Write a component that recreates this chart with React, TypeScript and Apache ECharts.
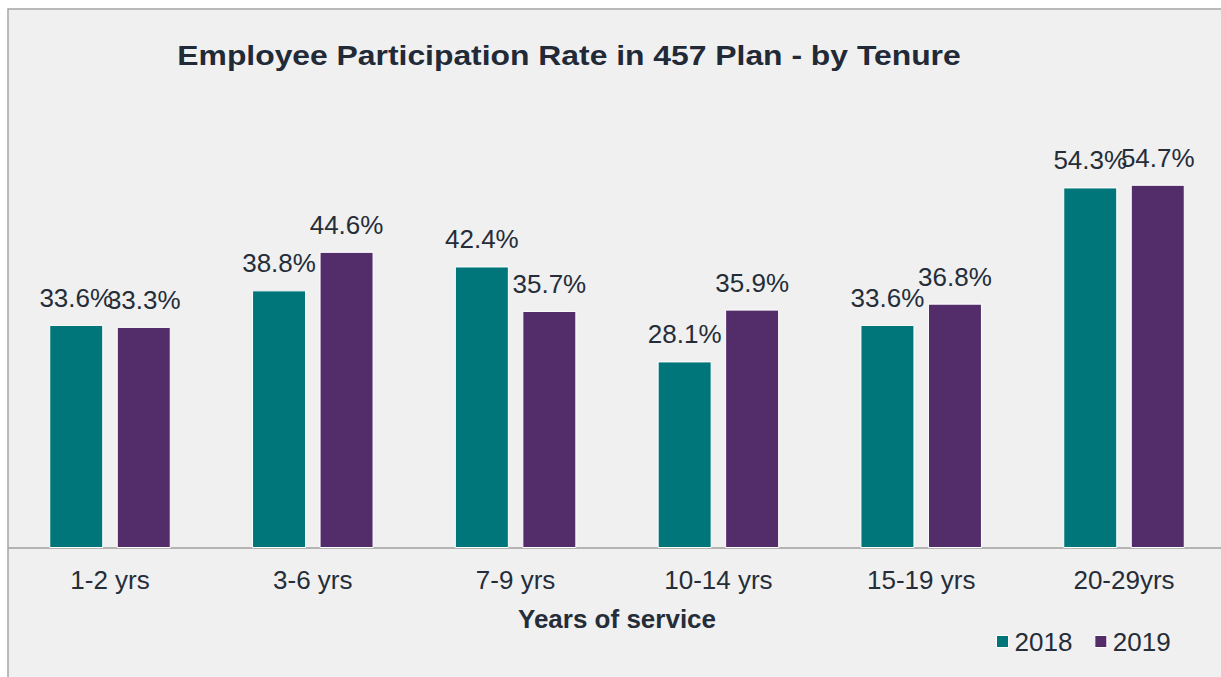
import React, { useEffect, useRef } from "react";
import * as echarts from "echarts";

const categories = ["1-2 yrs", "3-6 yrs", "7-9 yrs", "10-14 yrs", "15-19 yrs", "20-29yrs"];
const series2018 = [33.6, 38.8, 42.4, 28.1, 33.6, 54.3];
const series2019 = [33.3, 44.6, 35.7, 35.9, 36.8, 54.7];
const seriesNames = ["2018", "2019"];
const titleText = "Employee Participation Rate in 457 Plan - by Tenure";
const axisTitle = "Years of service";

const FONT = "Arial, 'Liberation Sans', Helvetica, sans-serif";
const TEXT = "#252d39";
const TEAL = "#00767a";
const PURPLE = "#532c6a";

export default function App() {
  const ref = useRef<HTMLDivElement>(null);
  useEffect(() => {
    if (!ref.current) return;
    const chart = echarts.init(ref.current, undefined, { renderer: "svg" });
    const label = {
      show: true,
      position: "top",
      distance: 14,
      fontFamily: FONT,
      fontSize: 26,
      color: TEXT,
      formatter: (p: any) => p.value.toFixed(1) + "%",
    };
    chart.setOption({
      animation: false,
      backgroundColor: "#ffffff",
      textStyle: { fontFamily: FONT },
      graphic: [
        {
          type: "rect",
          z: -10,
          shape: { x: 8, y: 9, width: 1400, height: 900 },
          style: { fill: "#f0f0f0", stroke: "#a5a5a5", lineWidth: 1.5 },
        },
        {
          type: "text",
          x: 569,
          y: 55,
          scaleX: 1.18,
          style: {
            text: titleText,
            fontFamily: FONT,
            fontSize: 27,
            fontWeight: "bold",
            fill: "#212a36",
            align: "center",
            verticalAlign: "middle",
          },
        },
      ],
      legend: {
        data: seriesNames,
        left: 996,
        top: 628.5,
        padding: 0,
        icon: "rect",
        itemWidth: 12,
        itemHeight: 12,
        itemGap: 22,
        itemStyle: { borderColor: "#ffffff", borderWidth: 1 },
        textStyle: { fontFamily: FONT, fontSize: 26, color: TEXT, padding: [0, 0, 0, 1] },
      },
      grid: { left: 8.6, width: 1216.8, top: 149.6, bottom: 129, containLabel: false },
      xAxis: {
        type: "category",
        data: categories,
        name: axisTitle,
        nameLocation: "middle",
        nameGap: 58,
        nameTextStyle: { fontFamily: FONT, fontSize: 26, fontWeight: "bold", color: TEXT },
        axisLine: { show: true, lineStyle: { color: "#a0a0a0", width: 1.5 } },
        axisTick: { show: false },
        axisLabel: { fontFamily: FONT, fontSize: 26, color: TEXT, margin: 19 },
      },
      yAxis: {
        type: "value",
        min: 0,
        max: 60,
        show: false,
        splitLine: { show: false },
      },
      series: [
        {
          name: seriesNames[0],
          type: "bar",
          data: series2018,
          barWidth: 54,
          barGap: "25%",
          itemStyle: { color: TEAL, borderColor: "#ffffff", borderWidth: 1 },
          label,
        },
        {
          name: seriesNames[1],
          type: "bar",
          data: series2019,
          barWidth: 54,
          barGap: "25%",
          itemStyle: { color: PURPLE, borderColor: "#ffffff", borderWidth: 1 },
          label,
        },
      ],
    });
    return () => chart.dispose();
  }, []);
  return (
    <div
      ref={ref}
      style={{ position: "fixed", left: 0, top: 0, width: 1240, height: 677 }}
    />
  );
}
